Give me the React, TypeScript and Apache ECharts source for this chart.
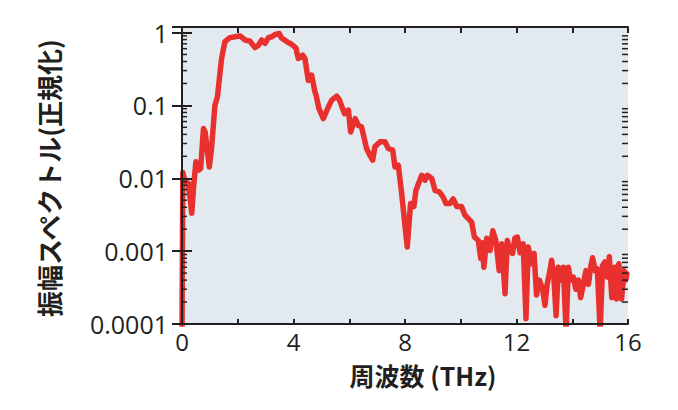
import React, { useEffect, useRef } from "react";
import * as echarts from "echarts";

// Frequency (THz) and normalised amplitude spectrum
const freq: number[] = [
  0.0, 0.03, 0.11, 0.23, 0.35, 0.43, 0.5, 0.59, 0.67, 0.77, 0.83, 0.98, 1.06, 1.18, 1.27, 1.42, 1.54, 1.72, 1.9, 2.08,
  2.26, 2.44, 2.62, 2.74, 2.86, 2.98, 3.1, 3.22, 3.34, 3.49, 3.56, 3.76, 3.93, 4.09, 4.17, 4.33, 4.41, 4.53, 4.65, 4.77,
  4.81, 4.91, 5.07, 5.25, 5.37, 5.55, 5.65, 5.83, 5.97, 6.05, 6.21, 6.33, 6.44, 6.62, 6.74, 6.84, 6.92, 7.1, 7.28, 7.4,
  7.56, 7.64, 7.76, 7.88, 8.08, 8.2, 8.32, 8.39, 8.6, 8.72, 8.8, 8.96, 9.08, 9.23, 9.37, 9.47, 9.61, 9.73, 9.86, 10.03,
  10.15, 10.27, 10.39, 10.49, 10.63, 10.72, 10.77, 10.83, 10.93, 11.05, 11.15, 11.26, 11.38, 11.47, 11.59, 11.67, 11.77,
  11.86, 11.94, 12.03, 12.13, 12.24, 12.34, 12.42, 12.55, 12.63, 12.72, 12.82, 12.94, 13.02, 13.1, 13.2, 13.26, 13.34,
  13.42, 13.5, 13.59, 13.68, 13.78, 13.86, 13.94, 14.04, 14.13, 14.22, 14.3, 14.4, 14.49, 14.58, 14.66, 14.73, 14.82,
  14.9, 15.0, 15.09, 15.17, 15.26, 15.33, 15.42, 15.52, 15.59, 15.67, 15.77, 15.86, 15.92, 15.96,
];
const amplitude: number[] = [
  0.00008, 0.012, 0.0089, 0.0085, 0.0033, 0.0089, 0.0168, 0.0129, 0.0136, 0.048, 0.043, 0.0143, 0.0256, 0.1, 0.13, 0.44,
  0.75, 0.85, 0.875, 0.9, 0.79, 0.76, 0.62, 0.67, 0.79, 0.71, 0.85, 0.875, 0.94, 0.97, 0.85, 0.75, 0.69, 0.61, 0.44, 0.49,
  0.44, 0.22, 0.26, 0.153, 0.138, 0.091, 0.066, 0.095, 0.118, 0.134, 0.118, 0.077, 0.086, 0.043, 0.066, 0.053, 0.051,
  0.0256, 0.0207, 0.0177, 0.027, 0.0316, 0.0316, 0.0256, 0.0244, 0.0143, 0.0151, 0.0062, 0.00114, 0.0045, 0.0041, 0.0068,
  0.011, 0.0094, 0.011, 0.0099, 0.0068, 0.0065, 0.0055, 0.0045, 0.0045, 0.0052, 0.0041, 0.0041, 0.0031, 0.0028, 0.0025,
  0.00156, 0.0014, 0.00079, 0.0013, 0.0006, 0.0015, 0.00102, 0.0019, 0.0014, 0.00054, 0.00126, 0.00026, 0.0014, 0.001,
  0.00093, 0.0015, 0.00156, 0.00095, 0.00126, 0.000118, 0.00114, 0.00067, 0.00093, 0.00025, 0.0004, 0.0003, 0.00018,
  0.00035, 0.00054, 0.00075, 0.00044, 0.00013, 0.0006, 0.0004, 0.0006, 0.00008, 0.0006, 0.0004, 0.00044, 0.0003, 0.0004,
  0.00023, 0.00035, 0.00054, 0.00035, 0.0006, 0.00081, 0.00054, 0.00057, 0.00008, 0.00064, 0.00071, 0.00044, 0.00084,
  0.00023, 0.0006, 0.00022, 0.00067, 0.00022, 0.00054, 0.0004, 0.00049,
];

const xMin = 0;
const xMax = 16;
const xTickStep = 2;
const xLabelStep = 4;
const yMin = 0.0001;
const yMax = 1.19;
const yMinorTicks: number[] = [
  0.0002, 0.0003, 0.0004, 0.0005, 0.0006, 0.0007, 0.0008, 0.0009,
  0.002, 0.003, 0.004, 0.005, 0.006, 0.007, 0.008, 0.009,
  0.02, 0.03, 0.04, 0.05, 0.06, 0.07, 0.08, 0.09,
  0.2, 0.3, 0.4, 0.5, 0.6, 0.7, 0.8, 0.9,
];

const xTitle = "周波数 (THz)";
const yTitle = "振幅スペクトル(正規化)";

const INK = "#231f20";
const RED = "#e8302f";
const NUM_FONT = "'Open Sans', 'Noto Sans', sans-serif";
const CJK_FONT = "'Noto Sans CJK JP', 'Noto Sans', sans-serif";

export default function App() {
  const ref = useRef<HTMLDivElement>(null);

  useEffect(() => {
    if (!ref.current) return;
    const chart = echarts.init(ref.current, null, { renderer: "svg" });

    const isPow10 = (v: number) => {
      const l = Math.log10(v);
      return Math.abs(l - Math.round(l)) < 1e-6;
    };

    const yBase = {
      type: "log" as const,
      logBase: 10,
      min: yMin,
      max: yMax,
      z: 10,
      axisLine: { show: true, lineStyle: { color: INK, width: 2 } },
      splitLine: { show: false },
    };
    const xBase = {
      type: "value" as const,
      min: xMin,
      max: xMax,
      interval: xTickStep,
      z: 10,
      axisLine: { show: true, lineStyle: { color: INK, width: 2 } },
      splitLine: { show: false },
    };

    chart.setOption({
      animation: false,
      backgroundColor: "#ffffff",
      grid: {
        left: 182,
        right: 50,
        top: 27,
        bottom: 86,
        show: true,
        backgroundColor: "#e2eaef",
        borderWidth: 0,
      },
      xAxis: [
        {
          ...xBase,
          position: "bottom",
          axisTick: { show: true, inside: true, length: 5, lineStyle: { color: INK, width: 2 } },
          axisLabel: {
            show: true,
            margin: 5,
            color: INK,
            fontFamily: NUM_FONT,
            fontSize: 24,
            lineHeight: 24,
            formatter: (v: number) => (Math.abs(v % xLabelStep) < 1e-9 ? String(v) : ""),
          },
        },
        {
          ...xBase,
          position: "top",
          axisTick: { show: true, inside: true, length: 6, lineStyle: { color: INK, width: 2 } },
          axisLabel: { show: false },
        },
      ],
      yAxis: [
        {
          ...yBase,
          position: "left",
          axisTick: { show: true, inside: true, length: 10, lineStyle: { color: INK, width: 2 } },
          axisLabel: {
            show: true,
            margin: 14,
            color: INK,
            fontFamily: NUM_FONT,
            fontSize: 25,
            formatter: (v: number) => (isPow10(v) ? String(Number(v.toPrecision(1))) : ""),
          },
        },
        {
          ...yBase,
          position: "right",
          axisTick: { show: true, inside: true, length: 10, lineStyle: { color: INK, width: 2 } },
          axisLabel: { show: false },
        },
      ],
      graphic: [
        {
          type: "text",
          x: 423,
          y: 375,
          style: {
            text: xTitle,
            fill: INK,
            font: `bold 25px ${CJK_FONT}`,
            lineHeight: 25,
            align: "center",
            verticalAlign: "middle",
          },
        },
        {
          type: "text",
          x: 48,
          y: 178,
          rotation: Math.PI / 2,
          style: {
            text: yTitle,
            fill: INK,
            font: `bold 26px ${CJK_FONT}`,
            align: "center",
            verticalAlign: "middle",
          },
        },
      ],
      series: [
        {
          type: "line",
          xAxisIndex: 0,
          yAxisIndex: 0,
          data: freq.map((f, i) => [f, amplitude[i]]),
          showSymbol: false,
          symbol: "none",
          clip: true,
          z: 2,
          lineStyle: { color: RED, width: 5.5, join: "round", cap: "round" },
        },
        {
          type: "custom",
          xAxisIndex: 0,
          yAxisIndex: 0,
          z: 12,
          clip: false,
          data: yMinorTicks.map((v) => [xMin, v]),
          renderItem: (_params: any, api: any) => {
            const v = api.value(1);
            const pL = api.coord([xMin, v]);
            const pR = api.coord([xMax, v]);
            const style = { stroke: INK, lineWidth: 1.5 };
            return {
              type: "group",
              children: [
                { type: "line", shape: { x1: pL[0], y1: pL[1], x2: pL[0] + 5, y2: pL[1] }, style },
                { type: "line", shape: { x1: pR[0], y1: pR[1], x2: pR[0] - 6, y2: pR[1] }, style },
              ],
            };
          },
        },
      ],
    });

    return () => chart.dispose();
  }, []);

  return (
    <div
      ref={ref}
      style={{ position: "fixed", left: 0, top: 0, width: 678, height: 410 }}
    />
  );
}
